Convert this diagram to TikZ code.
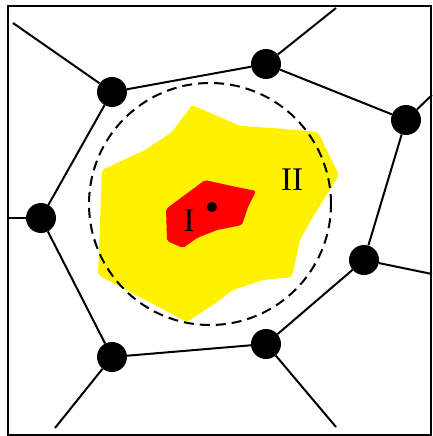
\documentclass[tikz,border=0pt]{standalone}
\usepackage{fontspec}
\setmainfont{Liberation Serif}
\usetikzlibrary{calc, positioning}

\tikzset{
  vertex/.style={circle, fill=black, inner sep=0pt, minimum size=30pt},
  site/.style={circle, fill=black, inner sep=0pt, minimum size=10pt},
  edge/.style={line width=2pt},
  zonelabel/.style={inner sep=0pt, font=\fontsize{33}{36}\selectfont}
}

\begin{document}
\begin{tikzpicture}[x=1pt, y=-1pt]
\useasboundingbox (0,0) rectangle (432,436);

% region II (yellow)
\fill[yellow, rounded corners=3pt] (192,105) -- (215,115) -- (240,126) -- (273,128)
  -- (318,132) -- (339,175) -- (313,217) -- (300,240) -- (292,277)
  -- (263,280) -- (233,290) -- (217,302) -- (187,322) -- (98,275)
  -- (102,170) -- (145,150) -- (172,132) -- cycle;

% region I (red)
\fill[red, rounded corners=2pt] (205,180) -- (227,185) -- (256,191) -- (248,207)
  -- (242,225) -- (217,230) -- (197,238) -- (183,248) -- (167,241)
  -- (166,209) -- cycle;

% search circle
\draw[edge, dash pattern=on 10pt off 6pt] (210,204) circle (121pt);

% frame
\draw[line width=1.6pt] (8,6) rectangle (431,435);

% Voronoi vertices
\node[vertex] (vtl) at (112,92) {};
\node[vertex] (vt)  at (266,64) {};
\node[vertex] (vr)  at (406,120) {};
\node[vertex] (vrb) at (364,260) {};
\node[vertex] (vb)  at (266,344) {};
\node[vertex] (vbl) at (112,357) {};
\node[vertex] (vl)  at (41,218) {};

% free ends
\coordinate (etl) at (13,23);
\coordinate (et)  at (336,8);
\coordinate (er)  at (432,95);
\coordinate (erb) at (432,274);
\coordinate (eb)  at (336,427);
\coordinate (ebl) at (55,428);
\coordinate (el)  at (9,218);

% cell edges
\draw[edge] (vtl) -- (vt) -- (vr) -- (vrb) -- (vb) -- (vbl) -- (vl) -- (vtl);
\draw[edge] (vtl) -- (etl);
\draw[edge] (vt) -- (et);
\draw[edge] (vr) -- (er);
\draw[edge] (vrb) -- (erb);
\draw[edge] (vb) -- (eb);
\draw[edge] (vbl) -- (ebl);
\draw[edge] (vl) -- (el);

% site and labels
\node[site] (s) at (212,207) {};
\node[zonelabel] (one) at (189,221) {I};
\node[zonelabel] (two) at (292,180) {II};
\end{tikzpicture}
\end{document}
